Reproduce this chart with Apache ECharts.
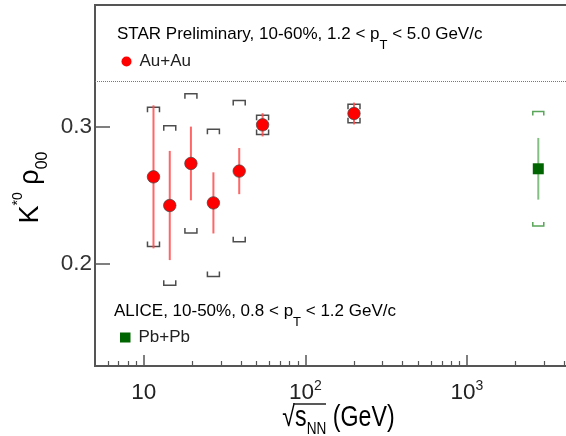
<!DOCTYPE html>
<html>
<head>
<meta charset="utf-8">
<script src="https://cdn.jsdelivr.net/npm/echarts@6/dist/echarts.min.js"></script>
<style>
html,body{margin:0;padding:0;background:#ffffff;}
#chart{width:566px;height:436px;}
</style>
</head>
<body>
<div id="chart"></div>
<script>
// ---------------- data ----------------
const energies = [11.5, 14.5, 19.6, 27, 39, 54.4, 200];
const auValue  = [0.2636, 0.2426, 0.2734, 0.2445, 0.2678, 0.3017, 0.3100];
const auStat   = [0.0524, 0.0400, 0.0270, 0.0224, 0.0169, 0.0085, 0.0080];
const auSys    = [0.0510, 0.0584, 0.0510, 0.0540, 0.0517, 0.0070, 0.0067];

const aliceEnergy = [2760];
const aliceValue  = [0.2695];
const aliceStat   = [0.0226];
const aliceSys    = [0.0420];

const refLine = 1 / 3;

const yTicks = [0.2, 0.3];
const yTickLabels = ['0.2', '0.3'];
const xMajorTicks = [10, 100, 1000];
const xTickExponents = ['1', '2', '3'];
const xMinorTicks = [6, 7, 8, 9, 20, 30, 40, 50, 60, 70, 80, 90,
                     200, 300, 400, 500, 600, 700, 800, 900, 2000, 3000, 4000];

// ---------------- style ----------------
const FONT = "'Liberation Sans', Arial, Helvetica, sans-serif";
const TEXT = '#222222';
const FRAME = '#555555';

// ---------------- helpers ----------------
function triple(xs, vs, es) { return xs.map((x, i) => [x, vs[i], es[i]]); }

function statRender(color) {
  return function (params, api) {
    const x = api.value(0), y = api.value(1), e = api.value(2);
    const p1 = api.coord([x, y + e]);
    const p2 = api.coord([x, y - e]);
    return {
      type: 'line',
      shape: { x1: p1[0], y1: p1[1], x2: p2[0], y2: p2[1] },
      style: { stroke: color, lineWidth: 2 }
    };
  };
}
function sysRender(color, hw, leg) {
  return function (params, api) {
    const x = api.value(0), y = api.value(1), e = api.value(2);
    const t = api.coord([x, y + e]);
    const b = api.coord([x, y - e]);
    return {
      type: 'group',
      children: [
        { type: 'polyline',
          shape: { points: [[t[0] - hw, t[1] + leg], [t[0] - hw, t[1]], [t[0] + hw, t[1]], [t[0] + hw, t[1] + leg]] },
          style: { stroke: color, lineWidth: 1.5, fill: null } },
        { type: 'polyline',
          shape: { points: [[b[0] - hw, b[1] - leg], [b[0] - hw, b[1]], [b[0] + hw, b[1]], [b[0] + hw, b[1] - leg]] },
          style: { stroke: color, lineWidth: 1.5, fill: null } }
      ]
    };
  };
}

// ---------------- chart ----------------
const chart = echarts.init(document.getElementById('chart'), null, { renderer: 'canvas' });

const xLabelRich = {
  b: { fontSize: 22.5, lineHeight: 28, fontFamily: FONT, color: TEXT },
  p: { fontSize: 14, lineHeight: 14, verticalAlign: 'top', fontFamily: FONT, color: TEXT }
};

const option = {
  animation: false,
  backgroundColor: '#ffffff',
  textStyle: { fontFamily: FONT },
  grid: {
    left: 95, top: 5, right: -14, bottom: 70,
    show: true, borderColor: FRAME, borderWidth: 2,
    backgroundColor: 'transparent',
    outerBoundsMode: 'none',
    containLabel: false
  },
  xAxis: [
    {
      type: 'log', logBase: 10, min: 5, max: 5000, position: 'bottom',
      axisLine: { show: false }, splitLine: { show: false }, minorTick: { show: false },
      axisTick: { show: true, inside: true, length: 11, customValues: xMajorTicks,
                  lineStyle: { color: FRAME, width: 1.5 } },
      axisLabel: {
        show: true, margin: 13, customValues: xMajorTicks,
        formatter: function (v) {
          const idx = xMajorTicks.findIndex(t => Math.abs(t - v) / t < 1e-6);
          const ex = xTickExponents[idx];
          return ex === '1' ? '{b|10}' : '{b|10}{p|' + ex + '}';
        },
        rich: xLabelRich
      }
    },
    {
      type: 'log', logBase: 10, min: 5, max: 5000, position: 'bottom',
      axisLine: { show: false }, splitLine: { show: false }, minorTick: { show: false },
      axisTick: { show: true, inside: true, length: 5, customValues: xMinorTicks,
                  lineStyle: { color: FRAME, width: 1.2 } },
      axisLabel: { show: false }
    }
  ],
  yAxis: {
    type: 'value', min: 0.125, max: 0.3895,
    axisLine: { show: false }, splitLine: { show: false },
    axisTick: { show: true, inside: true, length: 15, customValues: yTicks,
                lineStyle: { color: FRAME, width: 1.5 } },
    axisLabel: {
      show: true, margin: 3, customValues: yTicks,
      formatter: function (v) {
        const idx = yTicks.findIndex(t => Math.abs(t - v) < 1e-9);
        return yTickLabels[idx];
      },
      fontSize: 22.5, color: '#333333', fontFamily: FONT
    }
  },
  legend: [
    {
      data: ['Au+Au'], left: 121.5, top: 53, padding: 0, selectedMode: false,
      icon: 'circle', itemWidth: 16, itemHeight: 10,
      itemStyle: { borderWidth: 0 },
      textStyle: { fontSize: 17, color: TEXT, fontFamily: FONT }
    },
    {
      data: ['Pb+Pb'], left: 120, top: 329, padding: 0, selectedMode: false,
      icon: 'rect', itemWidth: 10.5, itemHeight: 10,
      textStyle: { fontSize: 17, color: TEXT, fontFamily: FONT, padding: [0, 0, 0, 3] }
    }
  ],
  series: [
    {
      name: 'Au+Au sys', type: 'custom', xAxisIndex: 0, yAxisIndex: 0,
      renderItem: sysRender('#4d4d4d', 6, 5),
      data: triple(energies, auValue, auSys), silent: true
    },
    {
      name: 'Au+Au stat', type: 'custom', xAxisIndex: 0, yAxisIndex: 0,
      renderItem: statRender('rgba(255,75,75,0.85)'),
      data: triple(energies, auValue, auStat), silent: true
    },
    {
      name: 'Au+Au', type: 'scatter', xAxisIndex: 0, yAxisIndex: 0,
      symbol: 'circle', symbolSize: 12.5,
      itemStyle: { color: '#ff0000', borderColor: 'rgba(70,70,70,0.7)', borderWidth: 1, opacity: 1 },
      data: energies.map((x, i) => [x, auValue[i]]),
      markLine: {
        silent: true, symbol: ['none', 'none'], label: { show: false },
        precision: 8,
        lineStyle: { type: [1, 1], color: '#777777', width: 1 },
        emphasis: { disabled: true },
        data: [{ yAxis: refLine }]
      }
    },
    {
      name: 'Pb+Pb sys', type: 'custom', xAxisIndex: 0, yAxisIndex: 0,
      renderItem: sysRender('#5aa55a', 5.5, 4),
      data: triple(aliceEnergy, aliceValue, aliceSys), silent: true
    },
    {
      name: 'Pb+Pb stat', type: 'custom', xAxisIndex: 0, yAxisIndex: 0,
      renderItem: statRender('rgba(110,180,110,0.85)'),
      data: triple(aliceEnergy, aliceValue, aliceStat), silent: true
    },
    {
      name: 'Pb+Pb', type: 'scatter', xAxisIndex: 0, yAxisIndex: 0,
      symbol: 'rect', symbolSize: 11,
      itemStyle: { color: '#006400', opacity: 1 },
      data: aliceEnergy.map((x, i) => [x, aliceValue[i]])
    }
  ],
  graphic: [
    {
      type: 'text', x: 117, y: 17.3, silent: true,
      style: {
        text: '{a|STAR Preliminary, 10-60%, 1.2 < p}{s|T}{a| < 5.0 GeV/c}',
        align: 'left', verticalAlign: 'top',
        rich: {
          a: { fontSize: 17, lineHeight: 35, fontFamily: FONT, color: TEXT },
          s: { fontSize: 13, lineHeight: 13, verticalAlign: 'bottom', fontFamily: FONT, color: TEXT }
        }
      }
    },
    {
      type: 'text', x: 114, y: 293.6, silent: true,
      style: {
        text: '{a|ALICE, 10-50%, 0.8 < p}{s|T}{a| < 1.2 GeV/c}',
        align: 'left', verticalAlign: 'top',
        rich: {
          a: { fontSize: 17, lineHeight: 35, fontFamily: FONT, color: TEXT },
          s: { fontSize: 13, lineHeight: 13, verticalAlign: 'bottom', fontFamily: FONT, color: TEXT }
        }
      }
    },
    {
      type: 'text', x: 31, y: 187.5, rotation: Math.PI / 2, silent: true,
      style: {
        text: '{k|K}{p|*0}{k| ρ}{b|00}',
        align: 'center', verticalAlign: 'middle',
        rich: {
          k: { fontSize: 27, lineHeight: 40, fontFamily: FONT, color: TEXT },
          p: { fontSize: 14, lineHeight: 17, verticalAlign: 'top', fontFamily: FONT, color: TEXT },
          b: { fontSize: 16, lineHeight: 16, verticalAlign: 'bottom', fontFamily: FONT, color: TEXT }
        }
      }
    },
    {
      type: 'text', x: 338.5, y: 398.9, scaleX: 0.8, silent: true,
      style: {
        text: '{r|√}{s|s}{n|NN}{a| (GeV)}',
        align: 'center', verticalAlign: 'top',
        rich: {
          r: { fontSize: 29, lineHeight: 38.6, fontFamily: FONT, color: TEXT },
          s: { fontSize: 29, lineHeight: 38.6, fontFamily: FONT, color: TEXT },
          n: { fontSize: 17, lineHeight: 17, verticalAlign: 'bottom', fontFamily: FONT, color: TEXT },
          a: { fontSize: 29, lineHeight: 38.6, fontFamily: FONT, color: TEXT }
        }
      }
    },
    {
      type: 'line', silent: true,
      shape: { x1: 293, y1: 404, x2: 326, y2: 404 },
      style: { stroke: TEXT, lineWidth: 1.3 }
    }
  ]
};

chart.setOption(option);
</script>
</body>
</html>
